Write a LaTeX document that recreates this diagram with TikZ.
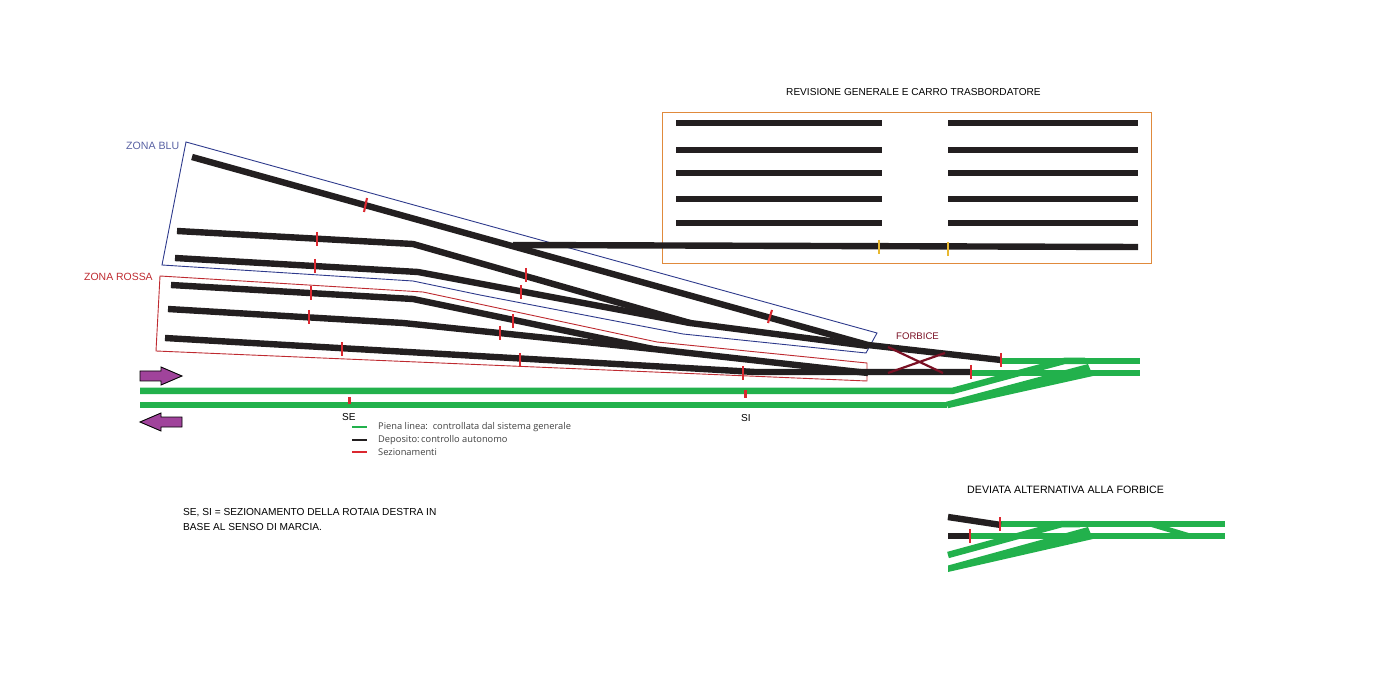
\documentclass[tikz,border=0pt]{standalone}
\usepackage{fontspec}
\setmainfont{Liberation Sans}
\newfontfamily\legendfont{Open Sans}
\definecolor{linegreen}{HTML}{22B14C}
\definecolor{depotblack}{HTML}{231F20}
\definecolor{cutred}{HTML}{DB2830}
\definecolor{zoneblue}{HTML}{2E3A8C}
\definecolor{zonered}{HTML}{BE2A30}
\definecolor{boxorange}{HTML}{E08A3C}
\definecolor{arrowpurple}{HTML}{A0439B}
\definecolor{xred}{HTML}{7A1024}
\definecolor{tickyellow}{HTML}{E8B830}
\tikzset{
  depot/.style={depotblack,line width=6.4pt,line join=round},
  full/.style={linegreen,line width=6.5pt,line join=round},
  cut/.style={cutred,line width=2.1pt},
  lbl/.style={font=\fontsize{10.1}{12}\selectfont,inner sep=0pt,anchor=west},
  leg/.style={font=\legendfont\fontsize{9.3}{11}\selectfont,text=black!75,inner sep=0pt,anchor=west},
}
\begin{document}
\begin{tikzpicture}[x=1pt,y=-1pt]
    \useasboundingbox (0,0) rectangle (1400,700);
    % zones
    \draw[zoneblue,line width=.9pt] (186,142)--(877,333)--(866,353)--(683,334)--(480,295)--(413,281)--(162,265)--cycle;
    \draw[zonered,line width=.9pt] (160,276)--(423,292)--(657,342)--(867,363)--(867,381)--(156,351)--cycle;
    \draw[boxorange,line width=.9pt] (662,112) rectangle (1151,263);
    % main line
    \draw[full] (140,391)--(952,391)--(1064,361)--(1085,361);
    \draw[full] (140,405)--(947,405);
    \fill[linegreen] (946,401.8)--(1088,364)--(1093,376)--(948,408.2)--cycle;
    \draw[full] (1001,361)--(1140,361);
    \draw[full] (971,373)--(1140,373);
    % depot tracks
    \draw[depot] (192,157)--(868,345)--(1001,360);
    \draw[depot] (177,231)--(413,244)--(690,323)--(868,346);
    \draw[depot] (175,258)--(418,272)--(690,323);
    \draw[depot] (171,285)--(413,299)--(653,349);
    \draw[depot] (168,309)--(403,323)--(653,349)--(868,373);
    \draw[depot] (165,338)--(755,372)--(971,372);
    \draw[depot] (513,245)--(1138,247);
    \foreach \yy in {123,150,173,199,223}
      {\draw[depot] (676,\yy)--(882,\yy);
       \draw[depot] (948,\yy)--(1138,\yy);}
    % sections
    \foreach \x/\yy in {317/232,315/259,311/286,309/310,342/342,526/268,521/285,513/314,500/326,520/353,743/366,971/365,1001/353}
      {\draw[cut] (\x,\yy)--+(0,14);}
    \draw[cut] (367,198)--(364,212);
    \draw[cut] (772,310)--(768,323);
    \draw[cut,line width=3pt] (349,397)--(349,404);
    \draw[cut,line width=3pt] (745,390)--(745,398);
    \foreach \x/\yy in {879/240,948/242}
      {\draw[tickyellow,line width=2pt] (\x,\yy)--+(0,14);}
    % scissors
    \draw[xred,line width=2.2pt] (888,347)--(943,373);
    \draw[xred,line width=2.2pt] (888,373)--(945,353);
    % direction arrows
    \draw[fill=arrowpurple,line width=.9pt] (140,371)--(161,371)--(161,367)--(182,376)--(161,385)--(161,381)--(140,381)--cycle;
    \draw[fill=arrowpurple,line width=.9pt] (182,417)--(161,417)--(161,413)--(140,422)--(161,431)--(161,427)--(182,427)--cycle;
    % alternative
    \draw[full] (1001,524)--(1225,524);
    \draw[full] (970,536)--(1225,536);
    \draw[full] (948,555)--(1062,524)--(1080,524);
    \fill[linegreen] (948,565.5)--(1088,527)--(1093,539)--(948,572)--cycle;
    \draw[full,line width=5pt] (1150,524)--(1190,536);
    \draw[depot] (948,517)--(1001,525);
    \draw[depot] (948,536)--(970,536);
    \foreach \x/\yy in {1000/517,970/529}
      {\draw[cut] (\x,\yy)--+(0,14);}
    % legend
    \foreach \yy/\c in {427/linegreen,440/depotblack,452/cutred}
      {\draw[\c,line width=2pt] (352,\yy)--(367,\yy);}
    \node[leg] (legfull) at (378,427) {Piena linea:\ \ controllata dal sistema generale};
    \node[leg] (legdepot) at (378,440) {Deposito:\,controllo autonomo};
    \node[leg] (legcut) at (378,452) {Sezionamenti};
    % labels
    \node[lbl] (title) at (786,92) {REVISIONE GENERALE E CARRO TRASBORDATORE};
    \node[lbl,font=\fontsize{10.6}{12}\selectfont,text=zoneblue!80!white] (zonablu) at (126,146) {ZONA BLU};
    \node[lbl,font=\fontsize{10.45}{12}\selectfont,text=zonered] (zonarossa) at (84,277) {ZONA ROSSA};
    \node[lbl,font=\fontsize{9.6}{12}\selectfont,text=xred] (forbice) at (896,336) {FORBICE};
    \node[lbl] (se) at (342,417) {SE};
    \node[lbl] (si) at (741,418) {SI};
    \node[lbl,font=\fontsize{10.15}{12}\selectfont] (note1) at (183,513) {SE, SI = SEZIONAMENTO DELLA ROTAIA DESTRA IN};
    \node[lbl,font=\fontsize{10.15}{12}\selectfont] (note2) at (183,527) {BASE AL SENSO DI MARCIA.};
    \node[lbl,font=\fontsize{10.65}{12}\selectfont] (deviata) at (967,490) {DEVIATA ALTERNATIVA ALLA FORBICE};
  \end{tikzpicture}
\end{document}
